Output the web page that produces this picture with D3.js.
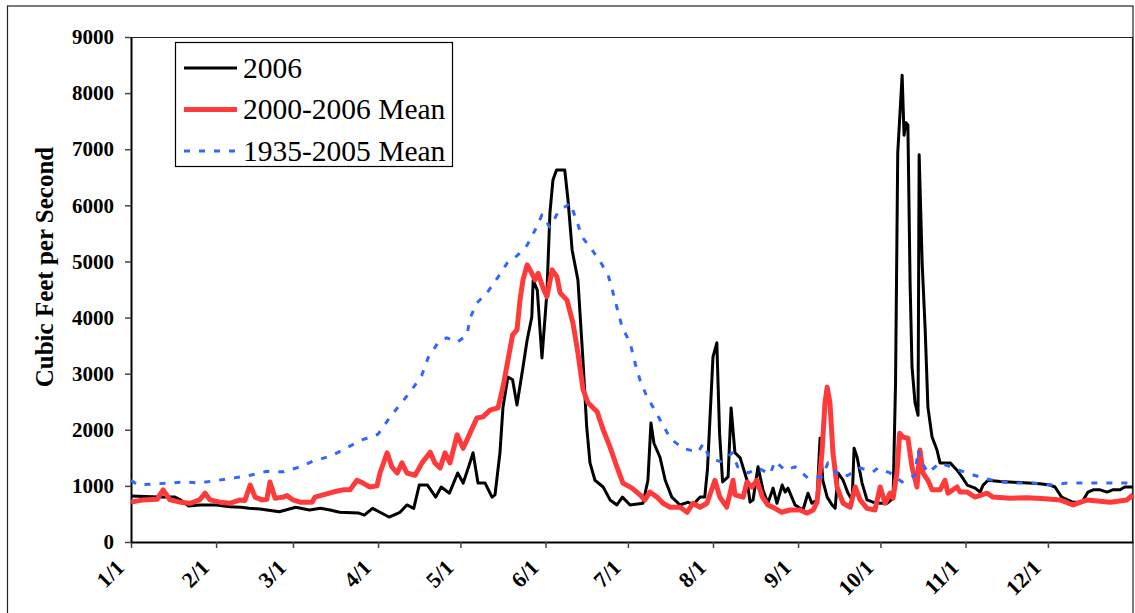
<!DOCTYPE html>
<html>
<head>
<meta charset="utf-8">
<script src="https://cdn.jsdelivr.net/npm/d3@7"></script>
<style>
  body { margin: 0; background: #fff; }
  text { font-family: "Liberation Serif", "Times New Roman", serif; }
</style>
</head>
<body>
<div id="chart"></div>
<script>
// Daily flow; day = days after Jan 1, 2006
var days2006 = [0, 10, 16, 18, 21, 25, 31, 36, 40, 43, 47, 54, 60, 65, 69, 72.5, 76, 83, 85, 88, 90.7, 94, 98, 100.5, 103,
    105, 108, 111, 113, 116, 119, 121, 123, 124.6, 126.4, 129, 131.5, 132.6, 134.4, 135.5, 137.3, 139, 140.6, 142.8, 144.3,
    146, 146.5, 148, 149.7, 151.5, 152.6, 153.7, 155, 158, 159.2, 160.7, 162.8, 164.7, 166, 167.2, 169, 172, 174.5, 177,
    179, 181.8, 186.5, 188.3, 189.4, 190.5, 192.7, 194.6, 197, 200, 203, 204.7, 207.3, 209, 210, 212, 213.4, 214.4, 215.5,
    217.5, 218.6, 220, 221.9, 224.4, 225.5, 226.6, 228.4, 230.2, 232, 233.9, 235.3, 237.2, 238.3, 239.3, 241.9, 244.8,
    246.6, 248, 249.9, 251, 252, 253.6, 255.4, 256.5, 257.6, 259.4, 261.2, 262.7, 263.4, 264.5, 266.3, 268.1, 270.3, 272.9,
    275.4, 277.6, 278.5, 279.3, 280.9, 281.6, 282.3, 283, 283.8, 284.5, 285.6, 286.7, 287.1, 288.2, 289.3, 290.3, 291.8,
    293.6, 294.7, 298.4, 300.9, 302.7, 304.6, 307.5, 309.3, 310.4, 312.2, 316.6, 324, 331, 334.8, 336.6, 339, 343, 346.4,
    348.6, 350.5, 353, 355.6, 357.6, 360.3, 362, 365];
var flow2006 = [820, 800, 800, 750, 640, 660, 660, 630, 620, 600, 590, 540, 620, 570, 600, 570, 530, 515, 480, 600, 530,
    445, 530, 660, 600, 1015, 1015, 800, 980, 870, 1230, 1050, 1340, 1590, 1050, 1050, 800, 840, 1590, 2400, 2940, 2890,
    2440, 3120, 3600, 4010, 4670, 4490, 3280, 4440, 5860, 6450, 6630, 6630, 6090, 5200, 4670, 3190, 2050, 1410, 1100, 980,
    750, 660, 800, 660, 690, 1100, 2120, 1760, 1510, 1100, 800, 660, 710, 660, 800, 800, 1300, 3300, 3550, 1940, 1070,
    1160, 2390, 1590, 1500, 1100, 710, 750, 1340, 930, 690, 960, 690, 1015, 890, 960, 660, 570, 870, 690, 750, 1850, 1100,
    800, 660, 600, 1230, 1100, 870, 750, 1670, 1510, 1050, 750, 710, 690, 690, 780, 2830, 6930, 8320, 7250, 7470, 7430,
    4610, 3120, 2480, 2260, 6900, 4970, 3780, 2400, 1870, 1640, 1410, 1410, 1280, 1160, 1015, 960, 890, 1015, 1100, 1080,
    1060, 1040, 1015, 980, 800, 710, 710, 890, 930, 930, 890, 930, 930, 980, 980];

var daysMean0006 = [0, 4.4, 9.5, 11.7, 14.2, 17.9, 21.5, 25, 27, 28.8, 32.4, 36, 39.7, 41.5, 43.4, 45.2, 47.7, 49.5, 50.6,
    52.5, 55.4, 56.8, 59, 61.6, 66, 67, 70, 73.6, 77.2, 79.8, 82.3, 84.5, 87, 89.6, 90.7, 93.3, 95, 97, 98.7, 100.5, 103.5,
    106, 109, 110.7, 112.6, 114.4, 116.2, 118.8, 121, 123.5, 126, 128.2, 130.8, 133.7, 135.5, 137.3, 139, 140.6, 141.7,
    142.8, 144.3, 146, 147.2, 148.3, 150, 151.5, 153.4, 155.2, 156.3, 158.8, 161, 162.8, 164.7, 166.5, 169.8, 172, 174.5,
    177, 179.2, 182.5, 185.4, 187.2, 189, 191.6, 193.8, 196.4, 200, 202.6, 204.7, 207.3, 209.8, 212.7, 214.5, 217, 219.3,
    220, 223, 224.4, 226.2, 228, 230, 232, 234.6, 237, 240, 243.7, 246.3, 248.5, 249.9, 251.7, 252.8, 253.6, 254.6, 255.7,
    257.2, 259.4, 262, 263.8, 265.6, 268.1, 271, 272.9, 274.7, 276.5, 277.6, 279, 280, 281.2, 283, 284.5, 286.3, 287.4,
    288.5, 290.3, 291.8, 294.7, 296.5, 297.6, 300.9, 302, 304.6, 307.5, 311.8, 314, 320.2, 326.4, 333, 338.4, 343.2, 348.3,
    356.7, 362.8, 365];
var flowMean0006 = [710, 750, 760, 930, 750, 710, 690, 750, 870, 750, 710, 690, 750, 740, 1015, 800, 750, 760, 1070, 780,
    800, 830, 750, 710, 710, 800, 840, 890, 930, 930, 1100, 1050, 980, 1000, 1230, 1590, 1340, 1230, 1410, 1230, 1190,
    1410, 1600, 1410, 1320, 1590, 1410, 1910, 1670, 1940, 2210, 2230, 2350, 2390, 2760, 3240, 3690, 3780, 4310, 4670, 4940,
    4790, 4670, 4790, 4540, 4370, 4850, 4720, 4440, 4310, 3900, 3370, 2710, 2480, 2320, 2000, 1690, 1340, 1050, 960, 840,
    750, 890, 800, 690, 620, 620, 530, 690, 620, 690, 1100, 800, 620, 1100, 840, 800, 1070, 980, 1100, 800, 660, 600, 530,
    570, 570, 515, 570, 710, 1590, 2480, 2760, 2480, 1590, 980, 690, 620, 980, 750, 600, 570, 980, 690, 870, 780, 1230,
    1940, 1870, 1850, 1340, 980, 1640, 1230, 1100, 930, 930, 1100, 870, 980, 890, 890, 800, 870, 800, 780, 790, 770, 750,
    660, 750, 710, 750, 840];

var daysMean3505 = [0, 2.5, 7, 13.5, 19.7, 24.4, 31.7, 37.2, 43.4, 49.5, 55.4, 61.6, 66.3, 73.2, 78, 84.2, 90, 94.4, 98.7,
    102.4, 106, 108.2, 111.8, 115, 118.8, 122.4, 123.5, 126, 129.7, 133.7, 137, 140.6, 144.3, 147.2, 149.7, 152.6, 155.6,
    160, 162.5, 164.3, 168, 171, 173.8, 175.6, 178.9, 181.8, 183.6, 185.4, 188, 190.2, 193.4, 196.4, 201, 206.6, 208.4, 211,
    215.3, 219, 221, 224.8, 228.4, 232.8, 234.6, 238.3, 241.9, 246.6, 251.7, 253.9, 258.3, 261.2, 265.6, 270.3, 272.1,
    276.5, 280.9, 285.6, 286.7, 288.2, 290.3, 294.7, 299.5, 304.6, 310.4, 316.6, 322.8, 328.6, 334.8, 341, 346.8, 353,
    359.2, 365];
var flowMean3505 = [1100, 1015, 1030, 1050, 1070, 1050, 1100, 1140, 1190, 1260, 1250, 1340, 1440, 1540, 1665, 1820, 1920,
    2230, 2490, 2720, 2980, 3280, 3550, 3640, 3560, 3690, 3990, 4260, 4440, 4720, 4970, 5100, 5290, 5560, 5830, 5610, 5880,
    6040, 5700, 5440, 5200, 4990, 4760, 4440, 3830, 3550, 3190, 2890, 2580, 2400, 2120, 1850, 1670, 1600, 1750, 1480, 1430,
    1590, 1340, 1230, 1320, 1210, 1440, 1280, 1340, 1140, 1160, 1410, 1160, 1190, 1320, 1250, 1320, 1230, 1070, 1190, 1640,
    1410, 1230, 1410, 1320, 1230, 1140, 1070, 1050, 1050, 1015, 1050, 1050, 1050, 1050, 1050];

var seriesNames = ["2006", "2000-2006 Mean", "1935-2005 Mean"];
var yTicks = [0, 1000, 2000, 3000, 4000, 5000, 6000, 7000, 8000, 9000];

var W = 1135, H = 613;
var margin = { left: 131, top: 37, right: 2, bottom: 71 };

var svg = d3.select("#chart").append("svg")
    .attr("width", W)
    .attr("height", H);

// outer chart frame
svg.append("rect")
    .attr("x", 7.5).attr("y", 6)
    .attr("width", 1125.5).attr("height", 640)
    .attr("fill", "none")
    .attr("stroke", "#222")
    .attr("stroke-width", 1.2);

var start = new Date(2006, 0, 1);
var end = new Date(2007, 0, 1);

var x = d3.scaleTime()
    .domain([start, end])
    .range([margin.left, W - margin.right]);

var y = d3.scaleLinear()
    .domain([0, 9000])
    .range([H - margin.bottom, margin.top]);

function toPoints(days, vals) {
    return days.map(function(d, i) {
        return { date: new Date(start.getTime() + d * 864e5), value: vals[i] };
    });
}

// plot area frame (top and right)
svg.append("path")
    .attr("d", "M" + margin.left + "," + (margin.top + 0.5) + "H" + (W - margin.right - 0.5) + "V" + (H - margin.bottom))
    .attr("fill", "none")
    .attr("stroke", "#222")
    .attr("stroke-width", 1.2);

// x axis
var xAxis = d3.axisBottom(x)
    .tickValues(d3.timeMonth.range(start, end))
    .tickFormat(d3.timeFormat("%-m/%-d"))
    .tickSize(6)
    .tickSizeOuter(0);

var gx = svg.append("g")
    .attr("transform", "translate(0," + (H - margin.bottom) + ")")
    .call(xAxis);
gx.select(".domain").attr("stroke", "#000").attr("stroke-width", 2);
gx.selectAll(".tick line").attr("stroke", "#444").attr("stroke-width", 1.5);
gx.selectAll(".tick text")
    .attr("font-size", "22px")
    .attr("font-weight", "bold")
    .attr("fill", "#000")
    .attr("text-anchor", "end")
    .attr("dy", null)
    .attr("transform", "translate(-6,27) rotate(-45)")
    .attr("y", 0)
    .attr("x", 0);

// y axis
var yAxis = d3.axisLeft(y)
    .tickValues(yTicks)
    .tickFormat(d3.format("d"))
    .tickSize(6)
    .tickSizeOuter(0)
    .tickPadding(11);

var gy = svg.append("g")
    .attr("transform", "translate(" + margin.left + ",0)")
    .call(yAxis);
gy.select(".domain").attr("stroke", "#000").attr("stroke-width", 2);
gy.selectAll(".tick line").attr("stroke", "#444").attr("stroke-width", 1.5);
gy.selectAll(".tick text")
    .attr("font-size", "21px")
    .attr("font-weight", "bold")
    .attr("fill", "#000");

svg.append("text")
    .attr("transform", "translate(53,267) rotate(-90)")
    .attr("text-anchor", "middle")
    .attr("font-size", "25px")
    .attr("font-weight", "bold")
    .text("Cubic Feet per Second");

// lines
var line = d3.line()
    .x(function(d) { return x(d.date); })
    .y(function(d) { return y(d.value); });

var styles = [
    { color: "#000000", width: 3, dash: null },
    { color: "#ff3a3a", width: 5, dash: null },
    { color: "#3366ff", width: 3, dash: "6,9" }
];
var data = [
    toPoints(days2006, flow2006),
    toPoints(daysMean0006, flowMean0006),
    toPoints(daysMean3505, flowMean3505)
];

data.forEach(function(pts, i) {
    svg.append("path")
        .datum(pts)
        .attr("d", line)
        .attr("fill", "none")
        .attr("stroke", styles[i].color)
        .attr("stroke-width", styles[i].width)
        .attr("stroke-linejoin", "round")
        .attr("stroke-dasharray", styles[i].dash);
});

// legend
var legend = svg.append("g");
legend.append("rect")
    .attr("x", 175.5).attr("y", 42.5)
    .attr("width", 277).attr("height", 124)
    .attr("fill", "#fff")
    .attr("stroke", "#000")
    .attr("stroke-width", 1.2);

seriesNames.forEach(function(name, i) {
    var cy = 68 + i * 41.5;
    legend.append("line")
        .attr("x1", 184).attr("x2", 237)
        .attr("y1", cy).attr("y2", cy)
        .attr("stroke", styles[i].color)
        .attr("stroke-width", styles[i].width)
        .attr("stroke-dasharray", styles[i].dash);
    legend.append("text")
        .attr("x", 243)
        .attr("y", cy + 9.5)
        .attr("font-size", "29.5px")
        .text(name);
});
</script>
</body>
</html>
